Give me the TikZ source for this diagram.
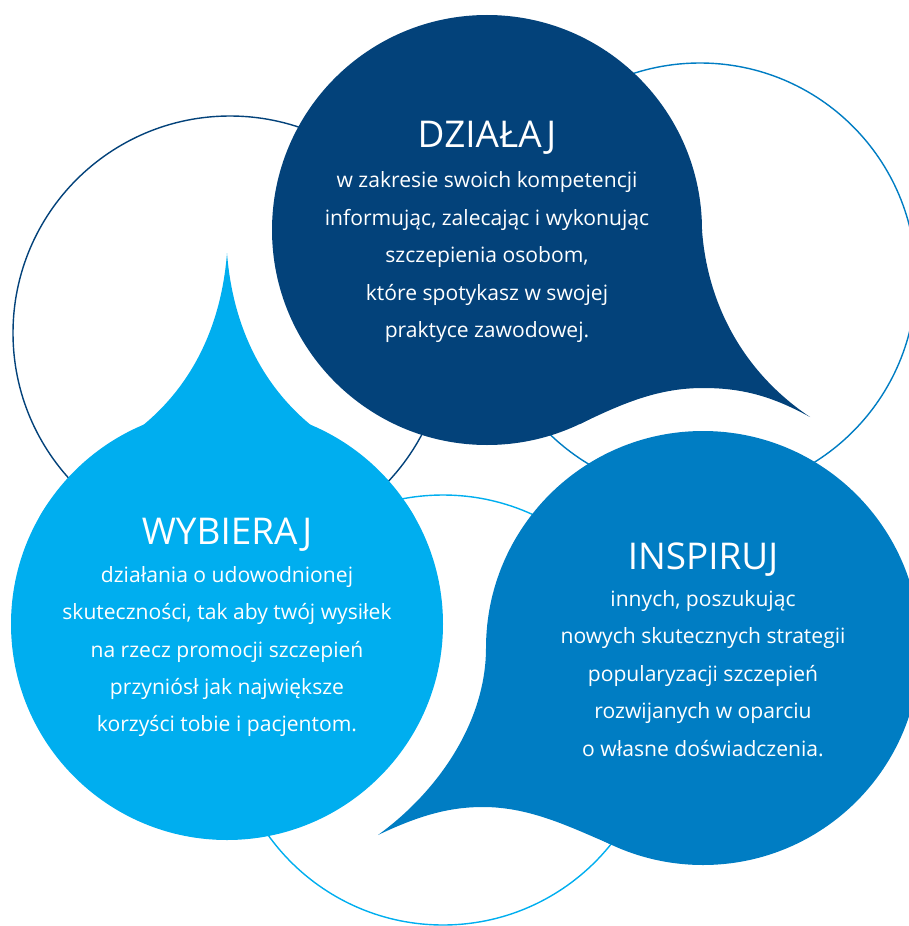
\documentclass[tikz,border=0pt]{standalone}
\usepackage{fontspec}
\setmainfont{Open Sans}
\definecolor{navyblue}{RGB}{3, 66, 122}
\definecolor{midblue}{RGB}{0, 125, 195}
\definecolor{skyblue}{RGB}{0, 174, 239}
\usetikzlibrary{positioning}
\newcommand{\bubbletitle}{\fontsize{21}{21.3}\selectfont}

\begin{document}
\begin{tikzpicture}[
  x=0.02cm, y=-0.02cm,
  ring/.style={draw=#1, line width=0.8pt},
  bubble/.style={fill=#1},
  bubbletext/.style={text=white, align=center, inner sep=0pt, anchor=north, font=\fontsize{12}{21.3}\selectfont},
]
  \useasboundingbox (0,0) rectangle (909,926);
  \clip (0,0) rectangle (909,926);

  % thin rings behind the bubbles
  \draw[ring=navyblue] (230,333) circle[radius=217];
  \draw[ring=midblue] (700,279) circle[radius=216];
  \draw[ring=skyblue] (443,710) circle[radius=215];

  % DZIALAJ bubble, tail to the lower right
  \fill[bubble=navyblue] (487,230) circle[radius=215];
  \fill[bubble=navyblue] (702,230) .. controls (707,300) and (740,370) .. (810,417)
    .. controls (770,395) and (740,388) .. (703,388)
    .. controls (660,388) and (625,402) .. (580,424) -- cycle;

  % WYBIERAJ bubble, tail up
  \fill[bubble=skyblue] (227,624) circle[radius=216];
  \fill[bubble=skyblue] (39,518) .. controls (59,480) and (101,457) .. (137,430)
    .. controls (189,390) and (221,330) .. (227,253)
    .. controls (233,330) and (265,390) .. (317,430)
    .. controls (353,457) and (395,480) .. (415,518) -- cycle;

  % INSPIRUJ bubble, tail to the lower left
  \fill[bubble=midblue] (703,648) circle[radius=217];
  \fill[bubble=midblue] (486,648) .. controls (486,720) and (440,790) .. (378,835)
    .. controls (420,815) and (450,807) .. (483,807)
    .. controls (530,807) and (570,827) .. (610,844) -- cycle;

  \node[bubbletext] (dzialaj) at (487,121) {{\bubbletitle DZIAŁAJ}\\[1.5pt]
    w zakresie swoich kompetencji\\
    informując, zalecając i wykonując\\
    szczepienia osobom,\\
    które spotykasz w swojej\\
    praktyce zawodowej.};
  \node[bubbletext] (wybieraj) at (227,518) {{\bubbletitle WYBIERAJ}\\
    działania o udowodnionej\\
    skuteczności, tak aby twój wysiłek\\
    na rzecz promocji szczepień\\
    przyniósł jak największe\\
    korzyści tobie i pacjentom.};
  \node[bubbletext] (inspiruj) at (703,542) {{\bubbletitle INSPIRUJ}\\
    innych, poszukując\\
    nowych skutecznych strategii\\
    popularyzacji szczepień\\
    rozwijanych w oparciu\\
    o własne doświadczenia.};
\end{tikzpicture}
\end{document}
